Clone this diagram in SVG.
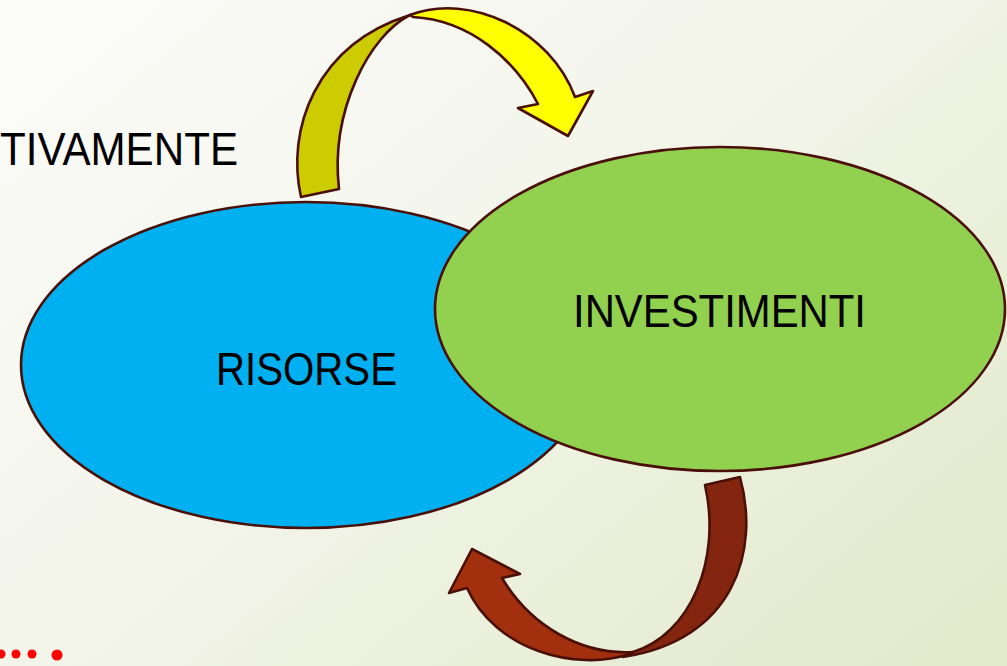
<svg xmlns="http://www.w3.org/2000/svg" width="1007" height="666" viewBox="0 0 1007 666">
  <defs>
    <linearGradient id="bg" x1="0" y1="0.1" x2="1" y2="0.9">
      <stop offset="0" stop-color="#fbfbf8"/>
      <stop offset="0.45" stop-color="#f3f5ea"/>
      <stop offset="1" stop-color="#e2eacc"/>
    </linearGradient>
    <style>
      .edge { stroke: #4a1008; stroke-width: 2.6; stroke-linejoin: round; }
      .label { font-family: "Liberation Sans", "DejaVu Sans", sans-serif; font-size: 46px; fill: #000000; }
      .dot { fill: #ff0000; }
    </style>
  </defs>

  <rect width="1007" height="666" fill="url(#bg)"/>

  <!-- side caption, clipped at the left margin -->
  <text class="label" x="0" y="165" textLength="238" lengthAdjust="spacingAndGlyphs">TIVAMENTE</text>

  <!-- bullet dots -->
  <g id="dots">
    <circle class="dot" cx="1" cy="654" r="4.5"/>
    <circle class="dot" cx="16" cy="654" r="4.5"/>
    <circle class="dot" cx="32" cy="654" r="4.5"/>
    <circle class="dot" cx="57" cy="655" r="5.5"/>
  </g>

  <g id="risorse">
    <ellipse class="edge" cx="306" cy="365" rx="285" ry="163" fill="#00b0f0"/>
    <text class="label" x="216" y="385" textLength="181" lengthAdjust="spacingAndGlyphs">RISORSE</text>
  </g>

  <g id="investimenti">
    <ellipse class="edge" cx="720" cy="309" rx="285" ry="162" fill="#92d050"/>
    <text class="label" x="573" y="327" textLength="293" lengthAdjust="spacingAndGlyphs">INVESTIMENTI</text>
  </g>

  <g id="connectors">
    <!-- upper curved arrow: risorse -> investimenti -->
    <path class="edge" fill="#cccc00" d="M301,197 C286,130 315,45 410,15 C370,35 330,110 339,189 Z"/>
    <path class="edge" fill="#ffff00" d="M410,15 C470,-8 550,30 575,97 L593,91 L568,136 L518,108 L538,104 C515,60 470,20 413,17 Z"/>
    <!-- lower curved arrow: investimenti -> risorse -->
    <path class="edge" fill="#84260f" d="M740,477 C760,550 735,640 623,657 L633,652 C690,635 722,560 705,485 Z"/>
    <path class="edge" fill="#a22f0d" d="M630,654 C575,672 495,650 467,588 L449,593 L472,549 L520,574 L502,578 C530,625 580,655 633,652 Z"/>
  </g>
</svg>
